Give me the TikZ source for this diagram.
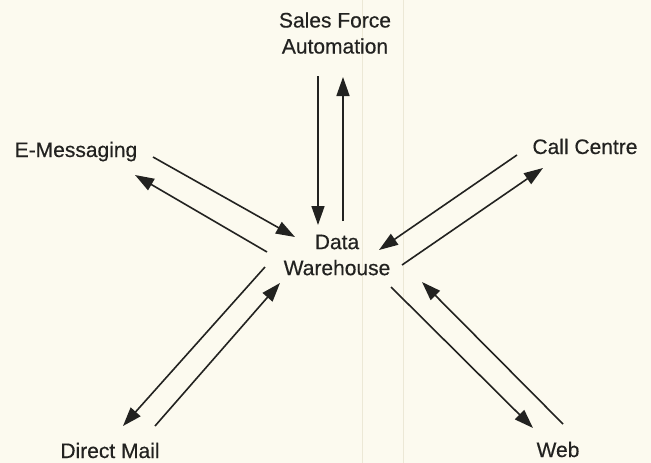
\documentclass[tikz,border=0pt]{standalone}
\usepackage{fontspec}
\setmainfont{Liberation Sans}[FakeBold=0.4]
\usetikzlibrary{arrows.meta}
\definecolor{paper}{RGB}{252,250,239}
\definecolor{ink}{RGB}{34,34,32}
\definecolor{crease}{RGB}{236,232,214}
\begin{document}
\begin{tikzpicture}[x=1pt,y=-1pt,
  label/.style={inner sep=0pt,text=ink,font=\fontsize{21}{26}\selectfont},
  flow/.style={draw=ink,line width=1.6pt,-{Triangle[length=19pt,width=13pt]}}]
  % page background and crease lines
  \fill[paper] (0,0) rectangle (651,463);
  \useasboundingbox (0,0) rectangle (651,463);
  \draw[crease,line width=1pt] (362,0) -- (362,463);
  \draw[crease,line width=0.8pt] (403,0) -- (403,463);

  % labels
  \node[label,align=center] (sfa) at (335,33) {Sales Force\\Automation};
  \node[label,align=center] (dw)  at (337,255) {Data\\Warehouse};
  \node[label,anchor=base] (em) at (76,157) {E-Messaging};
  \node[label,anchor=base] (cc) at (585,154) {Call Centre};
  \node[label,anchor=base] (dm) at (110,458) {Direct Mail};
  \node[label,anchor=base] (web) at (558,457) {Web};

  % arrow end points
  \coordinate (sfa-out) at (318,76);
  \coordinate (dw-from-sfa) at (318,225);
  \coordinate (dw-to-sfa) at (343,221);
  \coordinate (sfa-in) at (343,77);

  \coordinate (em-out) at (153,157);
  \coordinate (dw-from-em) at (295,237);
  \coordinate (dw-to-em) at (267,252);
  \coordinate (em-in) at (135,175);

  \coordinate (cc-out) at (517,155);
  \coordinate (dw-from-cc) at (379,250);
  \coordinate (dw-to-cc) at (402,265);
  \coordinate (cc-in) at (543,168);

  \coordinate (dw-to-dm) at (265,267);
  \coordinate (dm-in) at (123,426);
  \coordinate (dm-out) at (155,426);
  \coordinate (dw-from-dm) at (280,283);

  \coordinate (dw-to-web) at (391,287);
  \coordinate (web-in) at (533,428);
  \coordinate (web-out) at (563,424);
  \coordinate (dw-from-web) at (422,282);

  % flows
  \draw[flow] (sfa-out) -- (dw-from-sfa);
  \draw[flow] (dw-to-sfa) -- (sfa-in);
  \draw[flow] (em-out) -- (dw-from-em);
  \draw[flow] (dw-to-em) -- (em-in);
  \draw[flow] (cc-out) -- (dw-from-cc);
  \draw[flow] (dw-to-cc) -- (cc-in);
  \draw[flow] (dw-to-dm) -- (dm-in);
  \draw[flow] (dm-out) -- (dw-from-dm);
  \draw[flow] (dw-to-web) -- (web-in);
  \draw[flow] (web-out) -- (dw-from-web);
\end{tikzpicture}
\end{document}
